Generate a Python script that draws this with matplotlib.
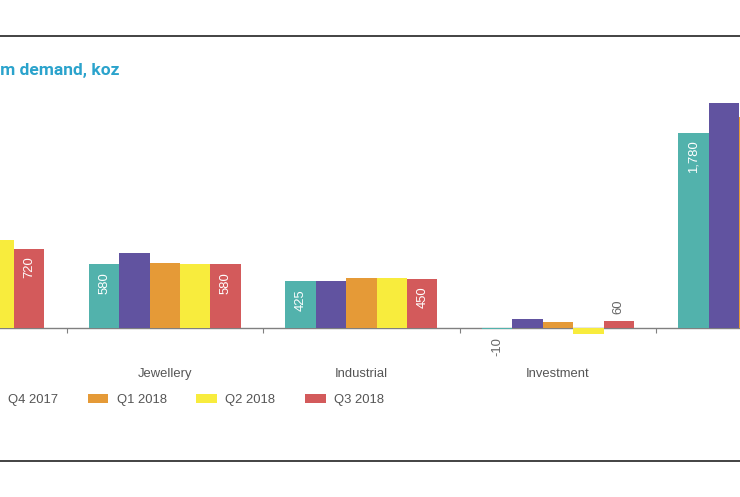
import matplotlib
matplotlib.use('Agg')
import matplotlib.pyplot as plt
from matplotlib.lines import Line2D
import numpy as np

categories = ['Automotive', 'Jewellery', 'Industrial', 'Investment', 'Total']
series = ['Q3 2017', 'Q4 2017', 'Q1 2018', 'Q2 2018', 'Q3 2018']
q3_2017 = [785, 580, 425, -10, 1780]
q4_2017 = [865, 680, 425, 85, 2055]
q1_2018 = [820, 595, 455, 55, 1925]
q2_2018 = [800, 585, 455, -55, 1785]
q3_2018 = [720, 580, 450, 60, 1810]
values = [q3_2017, q4_2017, q1_2018, q2_2018, q3_2018]
colors = ['#52b2ac', '#6153a0', '#e59a37', '#f8ec3d', '#d35a5b']
labelled = [0, 4]
title = 'Platinum demand, koz'

plt.rcParams['font.family'] = ['Liberation Sans', 'DejaVu Sans']
W, H = 740, 497
fig = plt.figure(figsize=(W / 100, H / 100), dpi=100)

left_px = -129.9
group_px = 196.53
base_px = 328.0
scale = 0.1096  # px per koz
ymin, ymax = -200, 2300
ax = fig.add_axes([left_px / W, (H - base_px + ymin * scale) / H,
                   5 * group_px / W, (ymax - ymin) * scale / H])
ax.set_xlim(-0.5, 4.5)
ax.set_ylim(ymin, ymax)

x = np.arange(len(categories))
bw = 30.4 / group_px
fs = 9.4
for k, (name, vals, c) in enumerate(zip(series, values, colors)):
    xs = x + (k - 2) * bw
    ax.bar(xs, vals, width=bw, color=c, label=name, linewidth=0, zorder=3)
    if k in labelled:
        for xi, v in zip(xs, vals):
            txt = f"{v:,}"
            if abs(v) * scale > 40:
                ax.annotate(txt, (xi, v), xytext=(0, -5.5), textcoords='offset points',
                            rotation=90, ha='center', va='top', color='white', fontsize=fs, zorder=4)
            elif v >= 0:
                ax.annotate(txt, (xi, v), xytext=(0, 5.5), textcoords='offset points',
                            rotation=90, ha='center', va='bottom', color='#666666', fontsize=fs)
            else:
                ax.annotate(txt, (xi, v), xytext=(0, -5.5), textcoords='offset points',
                            rotation=90, ha='center', va='top', color='#666666', fontsize=fs)

for s in ['top', 'left', 'right']:
    ax.spines[s].set_visible(False)
ax.spines['bottom'].set_position(('data', 0))
ax.spines['bottom'].set_color('#808080')
ax.spines['bottom'].set_linewidth(1.0)
ax.set_yticks([])
ax.set_xticks(x)
ax.set_xticklabels(categories)
ax.set_xticks(np.arange(-0.5, 5, 1), minor=True)
ax.tick_params(axis='x', which='major', length=0, pad=29, labelsize=fs, labelcolor='#555555')
ax.tick_params(axis='x', which='minor', length=3.6, width=0.8, color='#808080', direction='out')

handles, labels = ax.get_legend_handles_labels()
leg = fig.legend(handles, labels, loc='center left', bbox_to_anchor=(left_px / W, 1 - 400 / H),
                 ncol=5, frameon=False, fontsize=fs, handlelength=1.6, handleheight=0.69,
                 handletextpad=0.62, columnspacing=2.28, borderpad=0, borderaxespad=0)
for t in leg.get_texts():
    t.set_color('#555555')

# Title positioned so that "m demand, koz" starts at the left edge
renderer = fig.canvas.get_renderer()
tfs = 12.5
tmp = fig.text(0, 0, 'Platinu', fontsize=tfs, fontfamily='Roboto', fontweight='bold')
wpx = tmp.get_window_extent(renderer).width
tmp.remove()
fig.text(-wpx / W, 1 - 75 / H, title, fontsize=tfs, fontfamily='Roboto', fontweight='bold',
         color='#2ba3cc', va='baseline', ha='left')

fig.add_artist(Line2D([0, 1], [1 - 36 / H] * 2, transform=fig.transFigure, color='#222222', lw=1.2))
fig.add_artist(Line2D([0, 1], [1 - 461 / H] * 2, transform=fig.transFigure, color='#222222', lw=1.2))

fig.savefig('out.png', dpi=100)
